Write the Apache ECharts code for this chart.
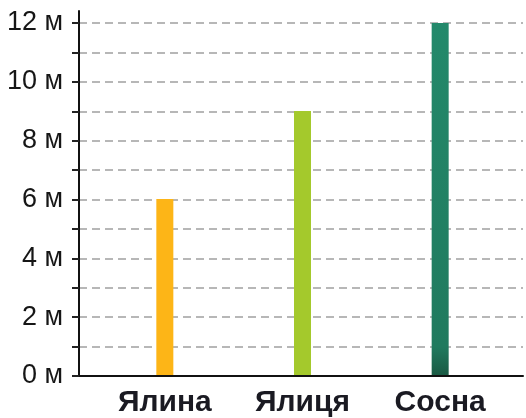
<!DOCTYPE html>
<html>
<head>
<meta charset="utf-8">
<script src="https://cdn.jsdelivr.net/npm/echarts@6/dist/echarts.min.js"></script>
<style>
  html, body { margin: 0; padding: 0; background: #fff; }
  #chart { width: 526px; height: 418px; }
</style>
</head>
<body>
<div id="chart"></div>
<script>
// tree heights, metres
const categories = ['Ялина', 'Ялиця', 'Сосна'];
const heights = [6, 9, 12];
const unit = ' м';

const yMin = 0;
const yMax = 12;
const yStep = 1; // dashed line every metre, label every 2

const FONT = '"Liberation Sans", Arial, Helvetica, sans-serif';

const barColors = [
  '#FDB517',
  '#A4C92C',
  new echarts.graphic.LinearGradient(0, 0, 0, 1, [
    { offset: 0, color: '#23896B' },
    { offset: 0.92, color: '#207A5E' },
    { offset: 1, color: '#1A5A44' }
  ])
];

const chart = echarts.init(document.getElementById('chart'), null, { renderer: 'canvas' });

const option = {
  animation: false,
  backgroundColor: '#fff',
  grid: [
    // frame (axis lines, y line runs a bit above the top value)
    { left: 79, right: 3, top: 11, bottom: 42 },
    // scale: ticks, labels, dashed lines
    { left: 79, right: 3, top: 23, bottom: 42 },
    // bars
    { left: 96, right: 17, top: 23, bottom: 42 }
  ],
  xAxis: [
    {
      gridIndex: 0,
      type: 'value',
      min: 0,
      max: 1,
      axisLine: { show: true, lineStyle: { color: '#111', width: 2 } },
      axisTick: { show: false },
      axisLabel: { show: false },
      splitLine: { show: false }
    },
    { gridIndex: 1, type: 'value', show: false },
    {
      gridIndex: 2,
      type: 'category',
      data: categories,
      axisLine: { show: false },
      axisTick: { show: false },
      axisLabel: {
        margin: 13,
        color: '#1a1a22',
        fontSize: 30,
        fontWeight: 'bold',
        fontFamily: FONT
      }
    }
  ],
  yAxis: [
    {
      gridIndex: 0,
      type: 'value',
      min: 0,
      max: 1,
      axisLine: { show: true, lineStyle: { color: '#111', width: 2 } },
      axisTick: { show: false },
      axisLabel: { show: false },
      splitLine: { show: false }
    },
    {
      gridIndex: 1,
      type: 'value',
      min: yMin,
      max: yMax,
      interval: yStep,
      axisLine: { show: false },
      axisTick: { show: true, length: 7, lineStyle: { color: '#222', width: 2 } },
      axisLabel: {
        margin: 16,
        color: '#161616',
        fontSize: 27,
        fontFamily: FONT,
        formatter: (v) => (v % 2 === 0 ? v + unit : '')
      },
      splitLine: {
        show: true,
        lineStyle: { color: '#a0a0a0', width: 1.5, type: [8, 5] }
      }
    },
    { gridIndex: 2, type: 'value', min: yMin, max: yMax, show: false }
  ],
  series: [
    {
      type: 'bar',
      xAxisIndex: 2,
      yAxisIndex: 2,
      barWidth: 17,
      z: 5,
      data: heights.map((h, i) => ({ value: h, itemStyle: { color: barColors[i] } }))
    }
  ]
};

chart.setOption(option);
</script>
</body>
</html>
